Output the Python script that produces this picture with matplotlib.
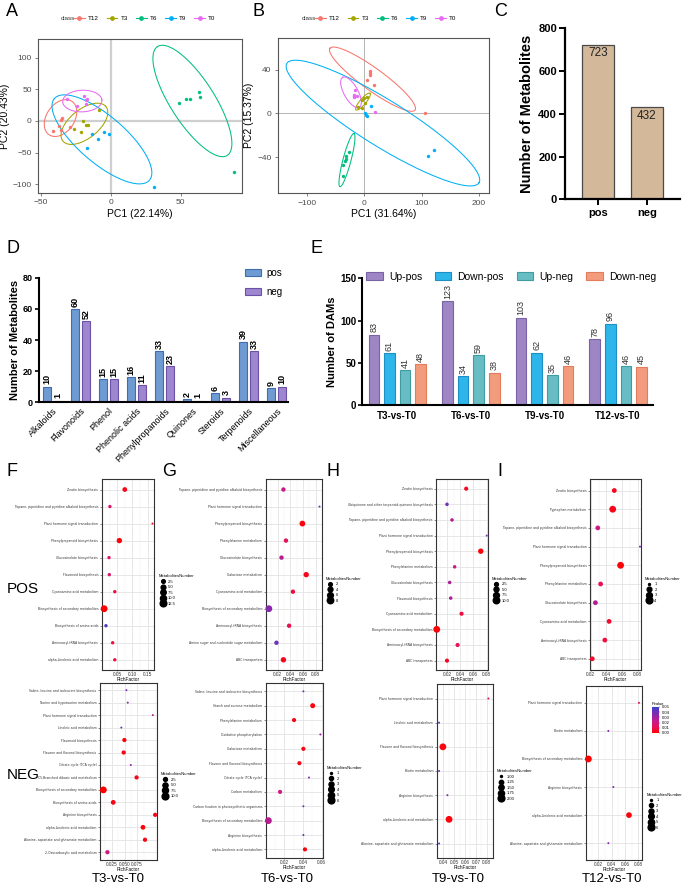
import numpy as np
import matplotlib
matplotlib.use("Agg")
import matplotlib.pyplot as plt
import matplotlib.font_manager as fm
from matplotlib.lines import Line2D
from matplotlib.colors import LinearSegmentedColormap, Normalize
from matplotlib.colorbar import ColorbarBase

plt.rcParams["font.family"] = ["Liberation Sans", "DejaVu Sans"]

# pathway labels in the enrichment plots are set in a narrow face when one exists
_fonts = fm.fontManager.ttflist
if any(f.name == "Liberation Sans Narrow" for f in _fonts):
    LAB_FONT = dict(family="Liberation Sans Narrow", fontsize=3.0)
elif any(f.name == "DejaVu Sans" and f.stretch == "condensed" for f in _fonts):
    LAB_FONT = dict(family="DejaVu Sans", fontstretch="condensed", fontsize=2.5)
else:
    LAB_FONT = dict(family="Liberation Sans", fontsize=2.45)

# ---------- PCA (A, B) ----------
CLASSES = ["T12", "T3", "T6", "T9", "T0"]
CLASS_COLORS = {"T12": "#F8766D", "T3": "#A3A500", "T6": "#00BF7D",
                "T9": "#00B0F6", "T0": "#E76BF3"}

A_PC1 = {"T12": [-41.5, -37.2, -35.3, -35.3, -34.5, -28.8],
         "T3": [-20, -18, -16, -21, -26, -8],
         "T6": [49, 54, 57, 63, 64, 88],
         "T9": [-13, -9, -5, -1, -17, 31],
         "T0": [-31, -24, -19, -18, -18, -17]}
A_PC2 = {"T12": [-16, -8, -14, 1, 4, -10],
         "T3": [0, -6, -6, -18, -13, 17],
         "T6": [29, 34, 34, 45, 38, -81],
         "T9": [-20, -28, -17, -21, -43, -105],
         "T0": [34, 24, 39, 33, 26, 35]}
# confidence ellipses: centre, two conjugate semi-axes (data units)
A_ELL = {"T12": (-35.9, 4.5, 5, 29, 10.5, -3),
         "T3": (-18.8, -4.6, 15.2, 27.8, 7, -17),
         "T6": (58.5, 31.5, -25, 86, 13.2, 19.1),
         "T9": (-6.25, -29.2, -34, 64.6, 11, 28),
         "T0": (-20.3, 31.4, 14, 2, -1, 17)}

B_PC1 = {"T12": [9.9, 9.9, 9.9, 4.7, 17.5, 106.5],
         "T3": [-4.6, -0.5, 1.3, -10.2, -4.5, 4.3],
         "T6": [-26, -32, -32.7, -36.6, -37.8, -33],
         "T9": [0.6, 4.1, 2.3, 11.7, 111, 121],
         "T0": [-16.3, -18.6, -13.4, -18, 18.1, -17.5]}
B_PC2 = {"T12": [38.9, 36.5, 34.7, 30.4, 25.6, 0],
         "T3": [12.1, 13.9, 9.3, 5.9, 5, 15.1],
         "T6": [-35, -39, -42, -47.2, -57, -43.3],
         "T9": [0.6, -2.4, -1.6, 6.7, -39.3, -33.8],
         "T0": [21.3, 16.7, 15.8, 14.6, 1.2, 15.5]}
B_ELL = {"T12": (14.3, 31.2, -74.2, 28.2, 11.3, 8.1),
         "T3": (-2.25, 10.7, 12.25, 7.6, 4, -1.75),
         "T6": (-30.2, -42.7, 12.2, 24.3, 6.8, -0.93),
         "T9": (32.5, -8.9, 167.5, -54.5, -21, -18),
         "T0": (-23.2, 19.2, -14.5, 13.7, 10.7, 3.1)}

# ---------- bars (C, D, E) ----------
C_GROUPS = ["pos", "neg"]
C_COUNTS = [723, 432]

D_CATS = ["Alkaloids", "Flavonoids", "Phenol", "Phenolic acids", "Phenylpropanoids",
          "Quinones", "Steroids", "Terpenoids", "Miscellaneous"]
D_POS = [10, 60, 15, 16, 33, 2, 6, 39, 9]
D_NEG = [1, 52, 15, 11, 23, 1, 3, 33, 10]

E_GROUPS = ["T3-vs-T0", "T6-vs-T0", "T9-vs-T0", "T12-vs-T0"]
E_SERIES = ["Up-pos", "Down-pos", "Up-neg", "Down-neg"]
E_UP_POS = [83, 123, 103, 78]
E_DOWN_POS = [61, 34, 62, 96]
E_UP_NEG = [41, 59, 35, 46]
E_DOWN_NEG = [48, 38, 46, 45]

# ---------- KEGG bubbles (F-I) ----------
POS_T3_PATH = ["Zeatin biosynthesis", "Tropane, piperidine and pyridine alkaloid biosynthesis",
               "Plant hormone signal transduction", "Phenylpropanoid biosynthesis",
               "Glucosinolate biosynthesis", "Flavonoid biosynthesis", "Cyanoamino acid metabolism",
               "Biosynthesis of secondary metabolites", "Biosynthesis of amino acids",
               "Aminoacyl-tRNA biosynthesis", "alpha-Linolenic acid metabolism"]
POS_T3_RICH = [0.075, 0.026, 0.166, 0.057, 0.023, 0.024, 0.042, 0.007, 0.013, 0.035, 0.042]
POS_T3_NUM = [5, 2, 1, 7, 2, 2, 2, 13, 2, 2, 2]
POS_T3_P = [0.003, 0.015, 0.005, 0.001, 0.015, 0.015, 0.008, 0.0, 0.045, 0.008, 0.008]

POS_T6_PATH = ["Tropane, piperidine and pyridine alkaloid biosynthesis",
               "Plant hormone signal transduction", "Phenylpropanoid biosynthesis",
               "Phenylalanine metabolism", "Glucosinolate biosynthesis", "Galactose metabolism",
               "Cyanoamino acid metabolism", "Biosynthesis of secondary metabolites",
               "Aminoacyl-tRNA biosynthesis", "Amino sugar and nucleotide sugar metabolism",
               "ABC transporters"]
POS_T6_RICH = [0.029, 0.086, 0.059, 0.033, 0.026, 0.065, 0.044, 0.006, 0.038, 0.018, 0.029]
POS_T6_NUM = [3, 1, 6, 3, 3, 5, 3, 9, 3, 3, 5]
POS_T6_P = [0.02, 0.04, 0.002, 0.012, 0.025, 0.004, 0.008, 0.035, 0.01, 0.04, 0.004]

POS_T9_PATH = ["Zeatin biosynthesis", "Ubiquinone and other terpenoid-quinone biosynthesis",
               "Tropane, piperidine and pyridine alkaloid biosynthesis",
               "Plant hormone signal transduction", "Phenylpropanoid biosynthesis",
               "Phenylalanine metabolism", "Glucosinolate biosynthesis", "Flavonoid biosynthesis",
               "Cyanoamino acid metabolism", "Biosynthesis of secondary metabolites",
               "Aminoacyl-tRNA biosynthesis", "ABC transporters"]
POS_T9_RICH = [0.049, 0.020, 0.0276, 0.080, 0.071, 0.0316, 0.024, 0.0256, 0.042, 0.0045, 0.036, 0.020]
POS_T9_NUM = [3, 2, 2, 1, 6, 2, 2, 2, 3, 11, 3, 3]
POS_T9_P = [0.004, 0.04, 0.025, 0.04, 0.001, 0.02, 0.028, 0.028, 0.008, 0.001, 0.012, 0.005]

POS_T12_PATH = ["Zeatin biosynthesis", "Tryptophan metabolism",
                "Tropane, piperidine and pyridine alkaloid biosynthesis",
                "Plant hormone signal transduction", "Phenylpropanoid biosynthesis",
                "Phenylalanine metabolism", "Glucosinolate biosynthesis",
                "Cyanoamino acid metabolism", "Aminoacyl-tRNA biosynthesis", "ABC transporters"]
POS_T12_RICH = [0.050, 0.048, 0.029, 0.0827, 0.058, 0.0326, 0.026, 0.0434, 0.038, 0.022]
POS_T12_NUM = [2, 4, 2, 1, 4, 2, 2, 2, 2, 2]
POS_T12_P = [0.004, 0.003, 0.02, 0.04, 0.001, 0.012, 0.025, 0.006, 0.008, 0.006]

NEG_T3_PATH = ["Valine, leucine and isoleucine biosynthesis", "Taurine and hypotaurine metabolism",
               "Plant hormone signal transduction", "Linoleic acid metabolism",
               "Flavonoid biosynthesis", "Flavone and flavonol biosynthesis",
               "Citrate cycle (TCA cycle)", "C5-Branched dibasic acid metabolism",
               "Biosynthesis of secondary metabolites", "Biosynthesis of amino acids",
               "Arginine biosynthesis", "alpha-Linolenic acid metabolism",
               "Alanine, aspartate and glutamate metabolism", "2-Oxocarboxylic acid metabolism"]
NEG_T3_RICH = [0.0537, 0.0563, 0.1057, 0.0437, 0.0497, 0.0483, 0.0623, 0.0737,
               0.0083, 0.0277, 0.1103, 0.0863, 0.0903, 0.0163]
NEG_T3_NUM = [1, 1, 1, 1, 3, 3, 1, 3, 10, 4, 3, 4, 3, 3]
NEG_T3_P = [0.035, 0.035, 0.025, 0.045, 0.002, 0.003, 0.035, 0.004, 0.0, 0.003, 0.004, 0.001, 0.003, 0.02]

NEG_T6_PATH = ["Valine, leucine and isoleucine biosynthesis", "Starch and sucrose metabolism",
               "Phenylalanine metabolism", "Oxidative phosphorylation", "Galactose metabolism",
               "Flavone and flavonol biosynthesis", "Citrate cycle (TCA cycle)", "Carbon metabolism",
               "Carbon fixation in photosynthetic organisms", "Biosynthesis of secondary metabolites",
               "Arginine biosynthesis", "alpha-Linolenic acid metabolism"]
NEG_T6_RICH = [0.0404, 0.0504, 0.0304, 0.0586, 0.0404, 0.0361, 0.0464, 0.0154,
               0.0404, 0.0029, 0.0404, 0.0421]
NEG_T6_NUM = [1, 3, 2, 1, 2, 2, 1, 2, 1, 6, 1, 2]
NEG_T6_P = [0.04, 0.002, 0.003, 0.03, 0.002, 0.003, 0.035, 0.02, 0.04, 0.025, 0.04, 0.002]

NEG_T9_PATH = ["Plant hormone signal transduction", "Linoleic acid metabolism",
               "Flavone and flavonol biosynthesis", "Biotin metabolism", "Arginine biosynthesis",
               "alpha-Linolenic acid metabolism", "Alanine, aspartate and glutamate metabolism"]
NEG_T9_RICH = [0.0815, 0.036, 0.0395, 0.036, 0.0437, 0.0452, 0.036]
NEG_T9_NUM = [1, 1, 2, 1, 1, 2, 1]
NEG_T9_P = [0.015, 0.045, 0.002, 0.04, 0.035, 0.001, 0.045]

NEG_T12_PATH = ["Plant hormone signal transduction", "Biotin metabolism",
                "Biosynthesis of secondary metabolites", "Arginine biosynthesis",
                "alpha-Linolenic acid metabolism", "Alanine, aspartate and glutamate metabolism"]
NEG_T12_RICH = [0.081, 0.035, 0.005, 0.0425, 0.066, 0.035]
NEG_T12_NUM = [1, 1, 6, 1, 4, 1]
NEG_T12_P = [0.01, 0.035, 0.0, 0.035, 0.002, 0.035]

PCMAP = LinearSegmentedColormap.from_list(
    "pv", ["#FF0000", "#E8104F", "#CC1A80", "#A0229E", "#7030B8", "#3C40D0"])
PNORM = Normalize(0.0, 0.05)

# ---------- figure ----------
W, H = 685, 886
fig = plt.figure(figsize=(W / 100, H / 100), dpi=100)


def add_ax(l, t, r, b):
    return fig.add_axes([l / W, 1 - b / H, (r - l) / W, (b - t) / H])


def fx(x):
    return x / W


def fy(y):
    return 1 - y / H


def pca_panel(box, pc1, pc2, ell, xlim, ylim, xticks, yticks, xlab, ylab, zlw, zcol, leg_x):
    ax = add_ax(*box)
    ax.axhline(0, color=zcol, lw=zlw, zorder=0)
    ax.axvline(0, color=zcol, lw=zlw, zorder=0)
    t = np.linspace(0, 2 * np.pi, 300)
    for g in CLASSES:
        c = CLASS_COLORS[g]
        cx, cy, a1, a2, b1, b2 = ell[g]
        ax.plot(cx + a1 * np.cos(t) + b1 * np.sin(t), cy + a2 * np.cos(t) + b2 * np.sin(t),
                color=c, lw=0.75, zorder=2)
        ax.scatter(pc1[g], pc2[g], s=6, color=c, lw=0, zorder=3)
    ax.set_xlim(xlim)
    ax.set_ylim(ylim)
    ax.set_xticks(xticks)
    ax.set_yticks(yticks)
    ax.tick_params(labelsize=6, colors="#4D4D4D", length=2.5, width=0.5, pad=2)
    for s in ax.spines.values():
        s.set_color("#555555")
        s.set_linewidth(0.8)
    ax.set_xlabel(xlab, fontsize=7.5, labelpad=2)
    ax.set_ylabel(ylab, fontsize=7.5, labelpad=2)
    handles = [Line2D([0], [0], color=CLASS_COLORS[g], lw=0.8, marker="o", markersize=2.4)
               for g in CLASSES]
    fig.text(fx(leg_x), fy(18.3), "class", fontsize=4.5, va="center", ha="left", color="#333333")
    fig.legend(handles, CLASSES, ncol=5, loc="center left", frameon=False, fontsize=4.5,
               bbox_to_anchor=(fx(leg_x + 13), fy(18.3)), handlelength=1.7, handletextpad=0.5,
               columnspacing=1.3, borderpad=0, borderaxespad=0)
    return ax


pca_panel((38, 39, 242, 193), A_PC1, A_PC2, A_ELL, (-52, 94), (-114, 129.5),
          [-50, 0, 50], [-100, -50, 0, 50, 100], "PC1 (22.14%)", "PC2 (20.43%)",
          1.6, "#CFCFCF", 61)
pca_panel((277.7, 38.3, 489.3, 193.3), B_PC1, B_PC2, B_ELL, (-151, 218), (-73, 68.5),
          [-100, 0, 100, 200], [-40, 0, 40], "PC1 (31.64%)", "PC2 (15.37%)",
          0.6, "#AAAAAA", 302)


def prism_axes(ax, lw=1.5):
    ax.spines["top"].set_visible(False)
    ax.spines["right"].set_visible(False)
    ax.spines["left"].set_linewidth(lw)
    ax.spines["bottom"].set_linewidth(lw)


# C
axc = add_ax(565.3, 28.3, 680, 199.3)
xc = np.arange(len(C_GROUPS))
axc.bar(xc, C_COUNTS, 0.66, color="#D3B899", edgecolor="#4A4A4A", lw=0.9)
for xi, v in zip(xc, C_COUNTS):
    axc.text(xi, v - 12, str(v), ha="center", va="top", fontsize=8.5, color="#222222")
axc.set_xlim(-0.67, 1.68)
axc.set_ylim(0, 800)
axc.set_yticks([0, 200, 400, 600, 800])
axc.set_xticks(xc)
axc.set_xticklabels(C_GROUPS)
prism_axes(axc, 1.6)
axc.tick_params(labelsize=8, width=1.4, length=4, pad=2)
for lab in axc.get_xticklabels() + axc.get_yticklabels():
    lab.set_fontweight("bold")
axc.set_ylabel("Number of Metabolites", fontsize=10.5, fontweight="bold", labelpad=3)

# D
axd = add_ax(39, 277.7, 288.3, 402.3)
xd = np.arange(len(D_CATS))
D_COL = ("#6F9BD3", "#3E6DB0")
N_COL = ("#9D87CF", "#6D50A8")
axd.bar(xd - 0.195, D_POS, 0.26, color=D_COL[0], edgecolor=D_COL[1], lw=0.8, label="pos")
axd.bar(xd + 0.195, D_NEG, 0.26, color=N_COL[0], edgecolor=N_COL[1], lw=0.8, label="neg")
for xi, v in zip(xd, D_POS):
    axd.text(xi - 0.195, v + 1.5, str(v), rotation=90, ha="center", va="bottom",
             fontsize=6.5, fontweight="bold")
for xi, v in zip(xd, D_NEG):
    axd.text(xi + 0.195, v + 1.5, str(v), rotation=90, ha="center", va="bottom",
             fontsize=6.5, fontweight="bold")
axd.set_xlim(-0.48, 8.42)
axd.set_ylim(0, 80)
axd.set_yticks([0, 20, 40, 60, 80])
axd.set_xticks(xd)
axd.set_xticklabels(D_CATS, rotation=45, ha="right", rotation_mode="anchor", fontsize=6.5)
prism_axes(axd, 1.5)
axd.tick_params(axis="y", labelsize=6.5, width=1.2, length=3, pad=1.5)
axd.tick_params(axis="x", length=0, pad=3)
for lab in axd.get_yticklabels():
    lab.set_fontweight("bold")
axd.set_ylabel("Number of Metabolites", fontsize=8, fontweight="bold", labelpad=2)
axd.legend(loc="upper left", bbox_to_anchor=(fx(245), fy(268)), bbox_transform=fig.transFigure,
           frameon=False, fontsize=7, handlelength=1.6, handleheight=0.8, labelspacing=0.9,
           handletextpad=0.6, borderpad=0, borderaxespad=0)

# E
axe = add_ax(362.3, 278.3, 652.7, 405)
xe = np.arange(len(E_GROUPS))
E_VALUES = [E_UP_POS, E_DOWN_POS, E_UP_NEG, E_DOWN_NEG]
E_FACE = ["#9E86C4", "#2EB6EA", "#67BDC3", "#F29C7D"]
E_EDGE = ["#7A62A6", "#1E8FC4", "#3E9CA2", "#E27C5C"]
for k, (name, vals) in enumerate(zip(E_SERIES, E_VALUES)):
    off = (k - 1.5) * 0.212
    axe.bar(xe + off, vals, 0.143, color=E_FACE[k], edgecolor=E_EDGE[k], lw=0.8, label=name)
    for xi, v in zip(xe, vals):
        axe.text(xi + off, v + 3, str(v), rotation=90, ha="center", va="bottom",
                 fontsize=6.5, color="#333333")
axe.set_xlim(-0.474, 3.47)
axe.set_ylim(0, 150)
axe.set_yticks([0, 50, 100, 150])
axe.set_xticks(xe)
axe.set_xticklabels(E_GROUPS)
prism_axes(axe, 1.5)
axe.tick_params(axis="y", labelsize=7, width=1.2, length=3, pad=1.5)
axe.tick_params(axis="x", labelsize=7, length=0, pad=4)
for lab in axe.get_xticklabels() + axe.get_yticklabels():
    lab.set_fontweight("bold")
axe.set_ylabel("Number of DAMs", fontsize=8, fontweight="bold", labelpad=2)
axe.legend(loc="center left", bbox_to_anchor=(fx(366), fy(276.7)), bbox_transform=fig.transFigure,
           ncol=4, frameon=False, fontsize=7.5, handlelength=1.6, handleheight=0.8,
           handletextpad=0.6, columnspacing=1.2, borderpad=0, borderaxespad=0)


# F-I bubbles
def size_px(v, lo, hi):
    return 2.0 + 4.8 * np.sqrt((np.asarray(v, float) - lo) / (hi - lo))


def bubble(box, names, rich, num, pv, xlim, xticks, xfmt, breaks, bfmt, leg_y=0.42):
    ax = add_ax(*box)
    n = len(names)
    ypos = np.arange(n)[::-1]
    lo, hi = min(num), max(num)
    d = size_px(num, lo, hi)
    ax.scatter(rich, ypos, s=(d * 0.72) ** 2, c=pv, cmap=PCMAP, norm=PNORM,
               linewidths=0, zorder=3, clip_on=False)
    ax.set_ylim(-0.6, n - 0.4)
    ax.set_xlim(xlim)
    ax.set_yticks(ypos)
    ax.set_yticklabels(names, color="#333333", **LAB_FONT)
    ax.set_xticks(xticks)
    ax.set_xticklabels([xfmt % v for v in xticks], fontsize=3.4, color="#4D4D4D")
    step = xticks[1] - xticks[0]
    minor = np.arange(xticks[0] - step / 2, xlim[1], step)
    ax.set_xticks(minor[(minor > xlim[0]) & (minor < xlim[1])], minor=True)
    ax.grid(which="major", color="#E3E3E3", lw=0.6)
    ax.grid(which="minor", axis="x", color="#EFEFEF", lw=0.35)
    ax.set_axisbelow(True)
    ax.tick_params(which="major", length=1.5, width=0.4, pad=1, colors="#333333")
    ax.tick_params(axis="x", which="major", length=1, pad=0.5)
    ax.tick_params(which="minor", length=0)
    for s in ax.spines.values():
        s.set_color("#333333")
        s.set_linewidth(0.8)
    ax.set_xlabel("RichFactor", fontsize=3.4, labelpad=0.2)
    handles = [Line2D([], [], ls="", marker="o", color="black",
                      markersize=float(size_px(b, lo, hi)) * 0.72) for b in breaks]
    ax.legend(handles, [bfmt % b for b in breaks], title="MetabolitesNumber",
              title_fontsize=3, fontsize=3, loc="center left", bbox_to_anchor=(1.04, leg_y),
              frameon=False, handletextpad=0.3, labelspacing=0.35, borderpad=0,
              alignment="left")
    return ax


bubble((101.7, 479.3, 154.3, 670), POS_T3_PATH, POS_T3_RICH, POS_T3_NUM, POS_T3_P,
       (-0.001, 0.172), [0.05, 0.10, 0.15], "%.2f", [2.5, 5.0, 7.5, 10.0, 12.5], "%.1f")
bubble((265.7, 479.3, 321.7, 670), POS_T6_PATH, POS_T6_RICH, POS_T6_NUM, POS_T6_P,
       (0.001, 0.0895), [0.02, 0.04, 0.06, 0.08], "%.2f", [2, 4, 6, 8], "%d")
bubble((436, 479.3, 487.7, 670), POS_T9_PATH, POS_T9_RICH, POS_T9_NUM, POS_T9_P,
       (0.0034, 0.0815), [0.02, 0.04, 0.06, 0.08], "%.2f", [2.5, 5.0, 7.5, 10.0], "%.1f")
bubble((590, 479.3, 640.7, 670), POS_T12_PATH, POS_T12_RICH, POS_T12_NUM, POS_T12_P,
       (0.0191, 0.0836), [0.02, 0.04, 0.06, 0.08], "%.2f", [1, 2, 3, 4], "%d")

bubble((100, 682.7, 156.7, 859.7), NEG_T3_PATH, NEG_T3_RICH, NEG_T3_NUM, NEG_T3_P,
       (0.0017, 0.1133), [0.025, 0.05, 0.075], "%.3f", [2.5, 5.0, 7.5, 10.0], "%.1f")
bubble((265.7, 682.7, 322.7, 858), NEG_T6_PATH, NEG_T6_RICH, NEG_T6_NUM, NEG_T6_P,
       (0.0, 0.0611), [0.02, 0.04, 0.06], "%.2f", [1, 2, 3, 4, 5, 6], "%d")
bubble((436.7, 684, 492.7, 858), NEG_T9_PATH, NEG_T9_RICH, NEG_T9_NUM, NEG_T9_P,
       (0.0338, 0.0855), [0.04, 0.05, 0.06, 0.07, 0.08], "%.2f",
       [1.0, 1.25, 1.5, 1.75, 2.0], "%.2f")
bubble((585.7, 686, 642.3, 860), NEG_T12_PATH, NEG_T12_RICH, NEG_T12_NUM, NEG_T12_P,
       (0.001, 0.086), [0.02, 0.04, 0.06, 0.08], "%.2f", [1, 2, 3, 4, 5, 6], "%d", leg_y=0.28)

cax = add_ax(652, 707, 659, 733)
cb = ColorbarBase(cax, cmap=PCMAP, norm=PNORM, ticks=[0, 0.01, 0.02, 0.03, 0.04, 0.05])
cb.ax.set_yticklabels(["0.00", "0.01", "0.02", "0.03", "0.04", "0.05"])
cb.ax.tick_params(labelsize=3, length=1, width=0.3, pad=1)
cb.outline.set_visible(False)
cax.set_title("Pvalue", fontsize=3, loc="left", pad=1.5)

# texts
fig.text(fx(7), fy(589), "POS", fontsize=11, va="center", ha="left")
fig.text(fx(7), fy(775), "NEG", fontsize=11, va="center", ha="left")
for x, lab in zip([118, 287, 458, 612], E_GROUPS):
    fig.text(fx(x), fy(879), lab, fontsize=9.5, ha="center", va="center")
for x, y, lab in [(6, 3, "A"), (253, 3, "B"), (494, 3, "C"), (6, 240, "D"), (311, 240, "E"),
                  (6, 463, "F"), (162, 463, "G"), (327, 463, "H"), (497, 463, "I")]:
    fig.text(fx(x), fy(y), lab, fontsize=13, ha="left", va="top")

fig.savefig("out.png", dpi=100)
